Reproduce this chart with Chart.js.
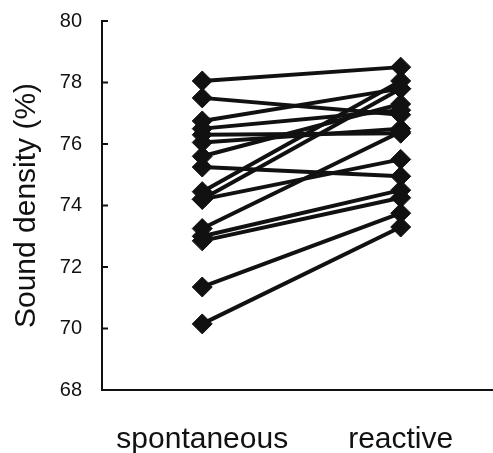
<!DOCTYPE html>
<html>
<head>
<meta charset="utf-8">
<script src="https://cdn.jsdelivr.net/npm/chart.js@4"></script>
<style>
  html, body { margin: 0; padding: 0; background: #fff; }
  #wrap { width: 493px; height: 453px; position: relative; }
</style>
</head>
<body>
<div id="wrap"><canvas id="myChart"></canvas></div>
<script>
// categories
var conditions = ['spontaneous', 'reactive'];
// one value per subject and condition (%)
var spontaneous = [78.05, 77.5, 76.75, 76.5, 76.3, 76.05, 75.6, 75.25, 74.45, 74.2, 74.2, 73.25, 73.0, 72.85, 71.35, 70.15];
var reactive    = [78.5, 76.95, 77.8, 77.1, 76.35, 76.5, 77.3, 74.95, 78.05, 77.8, 75.5, 76.4, 74.5, 74.25, 73.75, 73.3];
// y ticks
var yTicks = [68, 70, 72, 74, 76, 78, 80];

var ink = '#111';

// one line per subject
var datasets = spontaneous.map(function (v, i) {
    return {
        data: [{ x: 0, y: v }, { x: 1, y: reactive[i] }],
        borderColor: ink,
        backgroundColor: ink,
        borderWidth: 4,
        pointStyle: 'rectRot',
        pointRadius: 10,
        pointBorderWidth: 1,
        showLine: true
    };
});

// short tick marks drawn inward on the y axis
var innerTicks = {
    id: 'innerTicks',
    afterDraw: function (chart) {
        var c = chart.ctx, y = chart.scales.y;
        c.save();
        c.strokeStyle = ink;
        c.lineWidth = 2;
        yTicks.forEach(function (t) {
            var py = y.getPixelForValue(t);
            c.beginPath();
            c.moveTo(y.right, py);
            c.lineTo(y.right + 6, py);
            c.stroke();
        });
        c.restore();
    }
};

var ctx = document.getElementById('myChart').getContext('2d');
var chart = new Chart(ctx, {
    type: 'scatter',
    data: { datasets: datasets },
    options: {
        responsive: true,
        maintainAspectRatio: false,
        animation: false,
        layout: { autoPadding: false, padding: { top: 21, right: 1, left: 0, bottom: 0 } },
        plugins: { legend: { display: false }, tooltip: { enabled: false } },
        scales: {
            x: {
                type: 'linear',
                min: -0.505,
                max: 1.46,
                afterFit: function (s) {
                    s.height = 63;
                    s.paddingLeft = 0;
                    s.paddingRight = 0;
                },
                afterBuildTicks: function (s) {
                    s.ticks = conditions.map(function (c, i) { return { value: i }; });
                },
                ticks: {
                    color: ink,
                    padding: 32,
                    callback: function (v) { return conditions[v]; },
                    font: { family: 'Liberation Sans', size: 30 }
                },
                grid: { display: false, drawTicks: false },
                border: { display: true, color: ink, width: 2 }
            },
            y: {
                min: 68,
                max: 80,
                afterFit: function (s) {
                    s.width = 102;
                    s.paddingTop = 0;
                    s.paddingBottom = 0;
                },
                afterBuildTicks: function (s) {
                    s.ticks = yTicks.map(function (t) { return { value: t }; });
                },
                ticks: {
                    color: ink,
                    padding: 20,
                    font: { family: 'Liberation Sans', size: 20 }
                },
                title: {
                    display: true,
                    text: 'Sound density (%)',
                    color: ink,
                    padding: { top: 9, bottom: 0 },
                    font: { family: 'Liberation Sans', size: 30 }
                },
                grid: { display: false, drawTicks: false },
                border: { display: true, color: ink, width: 2 }
            }
        }
    },
    plugins: [innerTicks]
});
</script>
</body>
</html>
